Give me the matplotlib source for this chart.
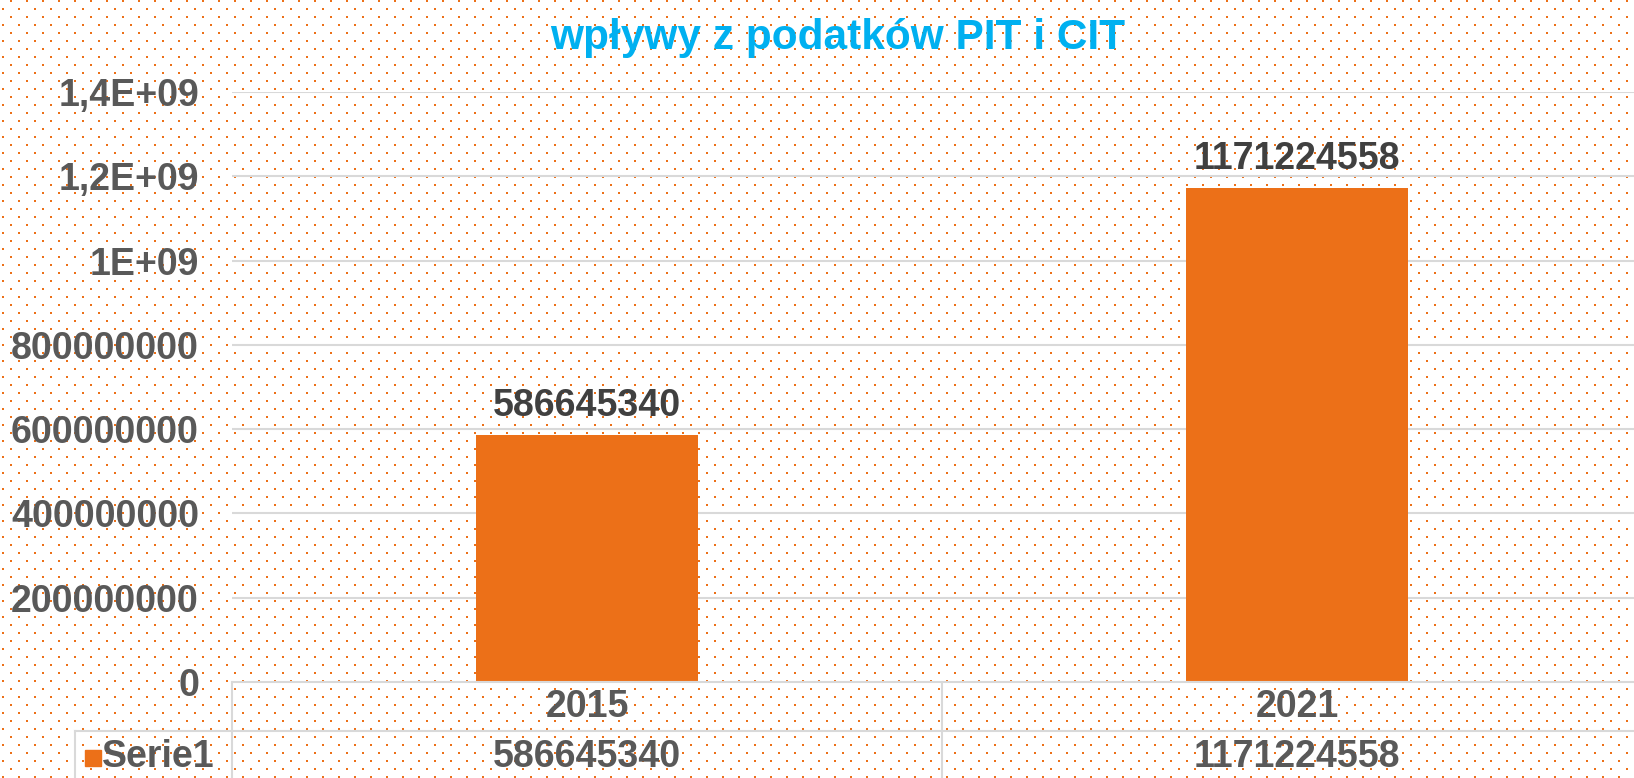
import numpy as np
import matplotlib
matplotlib.use('Agg')
import matplotlib.pyplot as plt
from matplotlib.lines import Line2D
from matplotlib.patches import Rectangle
from matplotlib.transforms import blended_transform_factory

plt.rcParams['font.family'] = ['Liberation Sans', 'DejaVu Sans']

TITLE = 'wpływy z podatków PIT i CIT'
YEARS = ['2015', '2021']
VALUES = [586645340, 1171224558]
SERIES = 'Serie1'
YTICKS = [0, 200000000, 400000000, 600000000, 800000000, 1000000000, 1200000000, 1400000000]
YTICK_LABELS = ['0', '200000000', '400000000', '600000000', '800000000', '1E+09', '1,2E+09', '1,4E+09']

ORANGE = '#EC7018'
GRID = '#D9D9D9'
TXT = '#595959'
W, H = 1634, 778


def px(x, y):
    # pixel coords from top-left -> figure fraction
    return x / W, 1 - y / H


def main():
    fig = plt.figure(figsize=(W / 100, H / 100), dpi=100)

    # dotted background fill
    bg = np.ones((H, W, 4))
    dot = matplotlib.colors.to_rgba(ORANGE)
    for r, y in enumerate(range(0, H, 8)):
        x0 = 2 if r % 2 else 10
        for x in range(x0, W, 16):
            bg[y:y + 2, x:x + 2] = dot
    fig.figimage(bg, 0, 0, zorder=-1)
    fig.patch.set_alpha(0)

    ax = fig.add_axes([232 / W, 96 / H, 1420 / W, 590 / H])
    ax.patch.set_alpha(0)
    x = np.arange(len(YEARS))
    ax.bar(x, VALUES, width=0.3127, color=ORANGE, zorder=3)
    for xi, v in zip(x, VALUES):
        ax.annotate(str(v), (xi, v), xytext=(0, 13.7), textcoords='offset points',
                    ha='center', va='baseline', fontsize=27, weight='bold', color='#404040')

    ax.set_xlim(-0.5, len(YEARS) - 0.5)
    ax.set_ylim(0, 1.4e9)
    ax.set_yticks(YTICKS)
    ax.set_yticklabels(YTICK_LABELS)
    ax.set_xticks([])
    ax.tick_params(axis='y', length=0, pad=23.8, labelsize=27, labelcolor=TXT)
    for lab in ax.get_yticklabels():
        lab.set_fontweight('bold')
    for s in ax.spines.values():
        s.set_visible(False)
    for t in YTICKS[1:]:
        ax.axhline(t, color=GRID, linewidth=1.5, zorder=1)

    # data table under the chart
    lw = 1.5
    lines = [
        ((232, 682), (W, 682)),
        ((75, 731), (W, 731)),
        ((232, 682), (232, H)),
        ((942, 682), (942, H)),
        ((75, 731), (75, H)),
    ]
    for (xa, ya), (xb, yb) in lines:
        p1, p2 = px(xa, ya), px(xb, yb)
        fig.add_artist(Line2D([p1[0], p2[0]], [p1[1], p2[1]], color=GRID,
                              linewidth=lw, transform=fig.transFigure))

    tr = blended_transform_factory(ax.transData, fig.transFigure)
    for xi, yr, v in zip(x, YEARS, VALUES):
        ax.text(xi, px(0, 707)[1], yr, transform=tr, ha='center', va='center',
                fontsize=27, weight='bold', color=TXT, clip_on=False)
        ax.text(xi, px(0, 757)[1], str(v), transform=tr, ha='center', va='center',
                fontsize=27, weight='bold', color=TXT, clip_on=False)

    sx, sy = px(85, 766)
    fig.add_artist(Rectangle((sx, sy), 16 / W, 16 / H, color=ORANGE,
                             transform=fig.transFigure))
    fig.text(px(102, 0)[0], px(0, 757)[1], SERIES, ha='left', va='center',
             fontsize=27, weight='bold', color=TXT)

    fig.text(838 / W, 1 - 49 / H, TITLE, ha='center', va='baseline',
             fontsize=30.5, weight='bold', color='#00B0F0')

    fig.savefig('out.png', dpi=100)


if __name__ == '__main__':
    main()
